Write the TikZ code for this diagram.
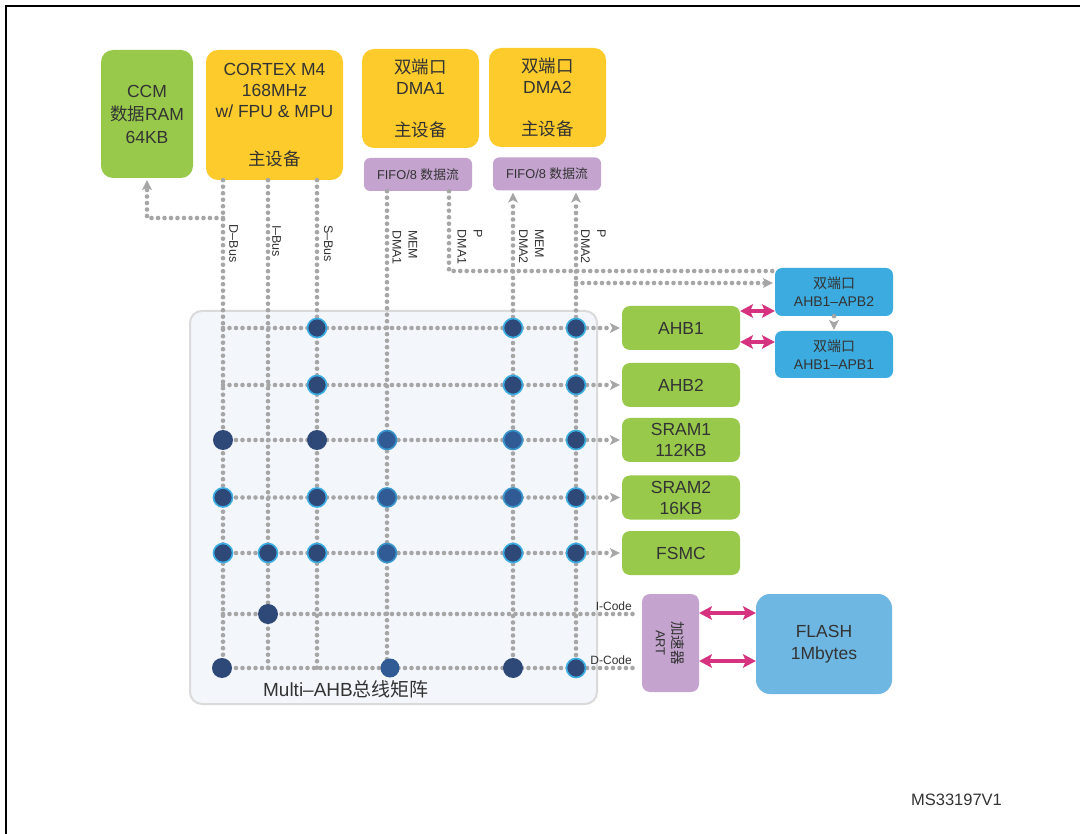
\documentclass[tikz,border=0pt]{standalone}
\usepackage{fontspec}
\setmainfont{Liberation Sans}
\newfontfamily\cjk{Noto Sans CJK SC}
\usetikzlibrary{arrows.meta}
\definecolor{cgreen}{HTML}{98C94B}
\definecolor{cyellow}{HTML}{FDCB2B}
\definecolor{cpurple}{HTML}{C4A4CF}
\definecolor{cblue}{HTML}{3CABDF}
\definecolor{cflash}{HTML}{6EB7E2}
\definecolor{cmag}{HTML}{D5327F}
\definecolor{cbus}{HTML}{A6A6A6}
\definecolor{cdot}{HTML}{2E4878}
\definecolor{cdotb}{HTML}{305B95}
\definecolor{cring}{HTML}{3AAEE4}
\definecolor{cmat}{HTML}{F3F6FB}
\definecolor{cmatb}{HTML}{DADADA}
\definecolor{ctext}{HTML}{333333}
\begin{document}
\begin{tikzpicture}[x=1pt,y=-1pt,
  box/.style={rounded corners=12pt, inner sep=0pt, align=center, text=ctext, font=\fontsize{17.5}{21}\selectfont},
  greenbox/.style={box, fill=cgreen, rounded corners=8pt, minimum width=118pt, minimum height=44pt},
  yellowbox/.style={box, fill=cyellow},
  fifobox/.style={box, fill=cpurple, rounded corners=6pt, minimum width=108pt, minimum height=33pt, font=\fontsize{12.8}{15}\selectfont},
  bluebox/.style={box, fill=cblue, rounded corners=7pt, minimum width=118pt, minimum height=47pt, font=\fontsize{14}{18}\selectfont},
  bus/.style={draw=cbus, line width=4.6pt, line cap=round, dash pattern=on 0pt off 6.5pt},
  garrow/.style={bus, -{Stealth[length=10pt,width=10pt,inset=2.5pt,line width=0pt]}, shorten >=2pt},
  marrow/.style={draw=cmag, line width=3.5pt, {Stealth[length=13pt,width=14pt,inset=3pt,line width=0pt]}-{Stealth[length=13pt,width=14pt,inset=3pt,line width=0pt]}},
  dotd/.style={circle, fill=cdot, minimum size=20pt, inner sep=0pt},
  dotr/.style={dotd, draw=cring, line width=1.6pt, minimum size=19pt},
  dotb/.style={dotd, fill=cdotb, draw=cring!70!cdotb, line width=1.6pt, minimum size=19pt},
  buslbl/.style={rotate=-90, align=left, inner sep=0pt, text=ctext, font=\fontsize{12.5}{16}\selectfont},
  smalllbl/.style={inner sep=0pt, text=ctext, font=\fontsize{12}{14}\selectfont}
]
\useasboundingbox (0,0) rectangle (1080,834);
\fill[white] (0,0) rectangle (1080,834);
% frame
\draw[line width=2.8pt] (6,900) -- (6,6) -- (1100,6);

% columns and rows
\coordinate (cD) at (223,0);
\coordinate (cI) at (268,0);
\coordinate (cS) at (317,0);
\coordinate (cM1) at (387,0);
\coordinate (cP1) at (449,0);
\coordinate (cM2) at (513,0);
\coordinate (cP2) at (576,0);
\coordinate (r0) at (0,218);
\coordinate (rP1) at (0,271);
\coordinate (rP2) at (0,283);
\coordinate (rI) at (0,614);
\coordinate (rDc) at (0,668);
\coordinate (mA) at (0,311);
\coordinate (mB) at (0,342);
\coordinate (mC) at (0,613);
\coordinate (mD) at (0,661);

% matrix background
\node[draw=cmatb, fill=cmat, line width=2pt, rounded corners=12pt, minimum width=407pt, minimum height=393pt, inner sep=0pt] (mat) at (393.5,507.5) {};
\node[inner sep=0pt, text=ctext, font=\fontsize{19}{22}\selectfont] (matlbl) at (346,689) {Multi–AHB{\cjk 总线矩阵}};

% masters
\node[box, fill=cgreen, minimum width=92pt, minimum height=128pt, font=\fontsize{17.5}{23}\selectfont] (ccm) at (147,114) {CCM\\{\cjk 数据}RAM\\64KB};
\node[yellowbox, minimum width=137pt, minimum height=130pt] (cortex) at (274.5,115) {CORTEX M4\\168MHz\\w/ FPU \& MPU\\[27pt]{\cjk 主设备}};
\node[yellowbox, minimum width=117pt, minimum height=99pt] (dma1) at (420.5,98.5) {{\cjk 双端口}\\DMA1\\[21pt]{\cjk 主设备}};
\node[yellowbox, minimum width=117pt, minimum height=99pt] (dma2) at (547.5,97.5) {{\cjk 双端口}\\DMA2\\[21pt]{\cjk 主设备}};
\node[fifobox] (fifo1) at (418,174.5) {FIFO/8 {\cjk 数据流}};
\node[fifobox] (fifo2) at (547,174) {FIFO/8 {\cjk 数据流}};

% slaves
\node[greenbox] (ahb1) at (681,328) {AHB1};
\node[greenbox] (ahb2) at (681,385) {AHB2};
\node[greenbox, font=\fontsize{17.5}{21}\selectfont] (sram1) at (681,440) {SRAM1\\112KB};
\node[greenbox] (sram2) at (681,497.5) {SRAM2\\16KB};
\node[greenbox] (fsmc) at (681,553) {FSMC};
\node[bluebox, minimum height=48pt] (apb2) at (834,292) {{\cjk 双端口}\\AHB1–APB2};
\node[bluebox] (apb1) at (834,354.5) {{\cjk 双端口}\\AHB1–APB1};
\node[box, fill=cpurple, rounded corners=8pt, minimum width=57pt, minimum height=98pt] (art) at (670.5,643) {};
\node[rotate=-90, align=center, inner sep=0pt, text=ctext, font=\fontsize{13}{17}\selectfont] (artlbl) at (art.center) {{\cjk\fontsize{14.5}{17}\selectfont 加速器}\\ART};
\node[box, fill=cflash, rounded corners=14pt, minimum width=136pt, minimum height=100pt, font=\fontsize{17.5}{22}\selectfont] (flash) at (824,644) {FLASH\\1Mbytes};

% master buses
\draw[bus] (cortex.south -| cD) -- (cD |- rDc);
\draw[bus] (cortex.south -| cI) -- (cI |- rDc);
\draw[bus] (cortex.south -| cS) -- (cS |- rDc);
\draw[bus] (fifo1.south -| cM1) -- (cM1 |- rDc);
\draw[garrow] (cM2 |- rDc) -- (fifo2.south -| cM2);
\draw[garrow] (cP2 |- rDc) -- (fifo2.south -| cP2);
\draw[garrow] (cD |- r0) -| (ccm.south);
\draw[bus] (fifo1.south -| cP1) |- (apb2.west |- rP1);
\draw[garrow] (cP2 |- rP2) -- (apb2.west |- rP2);
\draw[garrow, shorten >=1pt] (apb2.south) -- (apb1.north);

% slave rows
\draw[garrow] (cD |- ahb1.west) -- (ahb1.west);
\draw[garrow] (cD |- ahb2.west) -- (ahb2.west);
\draw[garrow] (cD |- sram1.west) -- (sram1.west);
\draw[garrow] (cD |- sram2.west) -- (sram2.west);
\draw[garrow] (cD |- fsmc.west) -- (fsmc.west);
\draw[bus, shorten >=7pt] (cD |- rI) -- (art.west |- rI);
\draw[bus, shorten >=7pt] (cD |- rDc) -- (art.west |- rDc);

% magenta links
\draw[marrow] (ahb1.east |- mA) -- (apb2.west |- mA);
\draw[marrow] (ahb1.east |- mB) -- (apb1.west |- mB);
\draw[marrow] (art.east |- mC) -- (flash.west |- mC);
\draw[marrow] (art.east |- mD) -- (flash.west |- mD);

% bus labels
\node[buslbl] (ldb) at (233.5,243.5) {D–Bus};
\node[buslbl] (lib) at (276.5,241) {I–Bus};
\node[buslbl] (lsb) at (328.5,243.5) {S–Bus};
\node[buslbl] (lm1) at (405,247.5) {MEM\\DMA1};
\node[buslbl] (lp1) at (470,247) {P\\DMA1};
\node[buslbl] (lm2) at (531.5,246.5) {MEM\\DMA2};
\node[buslbl] (lp2) at (593.5,246.5) {P\\DMA2};
\node[smalllbl, anchor=east] (licode) at (632,606) {I-Code};
\node[smalllbl, anchor=east] (ldcode) at (632,660) {D-Code};

% crossing points
\node[dotr] (a1) at (317,328) {};
\node[dotr] (a2) at (513,328) {};
\node[dotr] (a3) at (576,328) {};
\node[dotr] (b1) at (317,385) {};
\node[dotr] (b2) at (513,385) {};
\node[dotr] (b3) at (576,385) {};
\node[dotd] (c1) at (223,440) {};
\node[dotd] (c2) at (317,440) {};
\node[dotb] (c3) at (387,440) {};
\node[dotb] (c4) at (513,440) {};
\node[dotr] (c5) at (576,440) {};
\node[dotr] (d1) at (223,497.5) {};
\node[dotr] (d2) at (317,497.5) {};
\node[dotb] (d3) at (387,497.5) {};
\node[dotb] (d4) at (513,497.5) {};
\node[dotr] (d5) at (576,497.5) {};
\node[dotr] (e1) at (223,553) {};
\node[dotr] (e2) at (268,553) {};
\node[dotr] (e3) at (317,553) {};
\node[dotb] (e4) at (387,553) {};
\node[dotr] (e5) at (513,553) {};
\node[dotr] (e6) at (576,553) {};
\node[dotd] (f1) at (268,614) {};
\node[dotd] (g1) at (222,668) {};
\node[dotb, draw=none] (g2) at (390,668) {};
\node[dotd] (g3) at (513,668) {};
\node[dotr] (g4) at (576,668) {};

\node[inner sep=0pt, text=ctext, font=\fontsize{16.5}{19}\selectfont] (code) at (956.5,800) {MS33197V1};
\end{tikzpicture}
\end{document}
